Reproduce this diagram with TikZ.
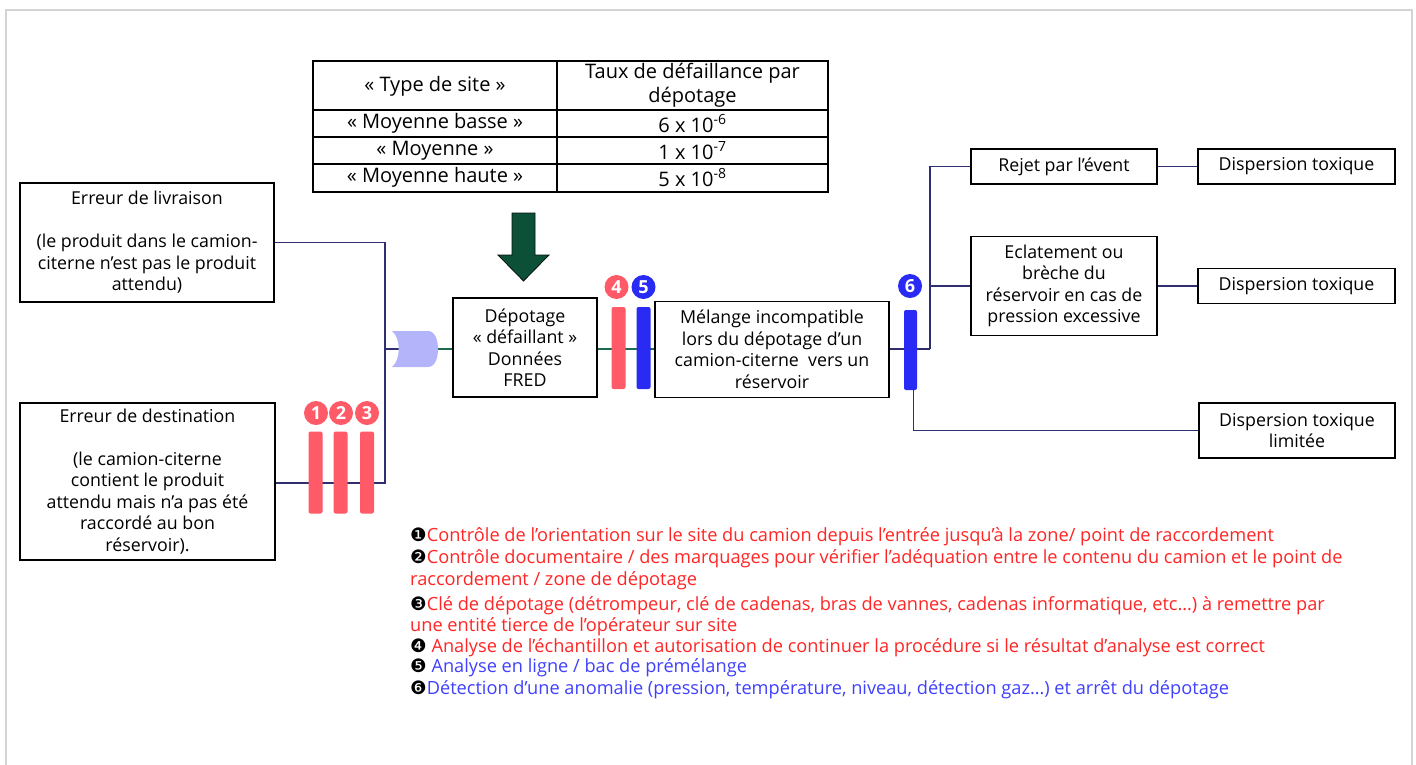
\documentclass[tikz,border=0pt]{standalone}
\usepackage{fontspec}
\setmainfont{Open Sans}
\newfontfamily\symfont{DejaVu Sans}
\usetikzlibrary{backgrounds}
\definecolor{navy}{HTML}{2F2F6F}
\definecolor{lgreen}{HTML}{1E6B4C}
\definecolor{bred}{HTML}{FF5A68}
\definecolor{bblue}{HTML}{2A2AF5}
\definecolor{tred}{HTML}{FF2525}
\definecolor{tblue}{HTML}{4040FF}
\definecolor{gatefill}{HTML}{B4B4FA}
\definecolor{arrowgreen}{HTML}{0D5038}
\definecolor{frame}{HTML}{D4D4D4}
\newcommand{\bul}[1]{{\symfont\fontsize{18.5}{18}\selectfont #1}}
\begin{document}
\begin{tikzpicture}[x=1pt,y=-1pt,
  font=\fontsize{17.8}{21.5}\selectfont,
  bx/.style 2 args={draw=black, line width=1.4pt, align=center, inner sep=0pt, fill=white, minimum width=#1pt, minimum height=#2pt},
  conn/.style={navy, line width=1.3pt},
  gconn/.style={lgreen, line width=1.3pt},
  barrier/.style={fill=#1, rounded corners=2pt, minimum width=14pt, minimum height=82pt, inner sep=0pt},
  num/.style={circle, fill=#1, inner sep=0pt, minimum size=24pt, text=white, font=\bfseries\fontsize{18}{18}\selectfont},
  cell/.style={align=center, inner sep=0pt, font=\fontsize{20}{24}\selectfont},
  leg/.style={anchor=base west, inner sep=0pt, font=\fontsize{18.2}{21}\selectfont}]
\useasboundingbox (0,0) rectangle (1416,764);
% frame
\draw[frame, line width=1.5pt] (6,770) -- (6,10) -- (1412,10) -- (1412,770);

% table
\draw[line width=2pt] (313,61) rectangle (828,192);
\draw[line width=1.5pt] (313,110) -- (828,110) (313,137) -- (828,137) (313,164) -- (828,164) (557,61) -- (557,192);
\node[cell] (t1) at (435,86) {«~Type de site~»};
\node[cell] (t2) at (692.5,85) {Taux de défaillance par\\dépotage};
\node[cell] (t3) at (435,123.5) {«~Moyenne basse~»};
\node[cell] (t4) at (692.5,123.5) {6 x 10\textsuperscript{-6}};
\node[cell] (t5) at (435,150.5) {«~Moyenne~»};
\node[cell] (t6) at (692.5,150.5) {1 x 10\textsuperscript{-7}};
\node[cell] (t7) at (435,177.5) {«~Moyenne haute~»};
\node[cell] (t8) at (692.5,177.5) {5 x 10\textsuperscript{-8}};

% green arrow
\fill[arrowgreen, draw=black!80!arrowgreen, line width=0.8pt] (512,213) -- (535,213) -- (535,255) -- (549,255) -- (523.5,281) -- (498,255) -- (512,255) -- cycle;

% boxes
\node[bx={254}{119}] (liv) at (147,242.5) {Erreur de livraison\\[21.5pt](le produit dans le camion-\\citerne n’est pas le produit\\attendu)};
\node[bx={255}{157}] (dest) at (147.5,481.5) {Erreur de destination\\[21.5pt](le camion-citerne\\contient le produit\\attendu mais n’a pas été\\raccordé au bon\\réservoir).};
\node[bx={144}{99}] (dep) at (525,347.5) {Dépotage\\«~défaillant~»\\Données\\FRED};
\node[bx={234}{96}] (mel) at (772,349.5) {Mélange incompatible\\lors du dépotage d’un\\camion-citerne~ vers un\\réservoir};
\node[bx={186}{35}] (rej) at (1064,166.5) {Rejet par l’évent};
\node[bx={186}{99}] (ecl) at (1064,286) {Eclatement ou\\brèche du\\réservoir en cas de\\pression excessive};
\node[bx={197}{35}] (dis1) at (1296.5,166.5) {Dispersion toxique};
\node[bx={197}{35}] (dis2) at (1296.5,286) {Dispersion toxique};
\node[bx={196}{55}] (dis3) at (1297,430.5) {Dispersion toxique\\limitée};

% gate
\path[fill=gatefill] (392,331) -- (428,331) .. controls (435,331) and (438,340) .. (438,349) .. controls (438,358) and (435,367) .. (428,367) -- (392,367) .. controls (401,360) and (401,338) .. (392,331) -- cycle;
\coordinate (gin) at (399,349);
\coordinate (gout) at (438,349);
\coordinate (j1) at (385,349);
\coordinate (j2) at (930,349);

% barriers
\node[barrier=bred] (b1) at (315.5,472.5) {};
\node[barrier=bred] (b2) at (340.5,472.5) {};
\node[barrier=bred] (b3) at (367,472.5) {};
\node[num=bred] (c1) at (316,413) {1};
\node[num=bred] (c2) at (341,413) {2};
\node[num=bred] (c3) at (367,413) {3};
\node[barrier=bred] (b4) at (618.5,348) {};
\node[barrier=bblue] (b5) at (643.5,348) {};
\node[num=bred] (c4) at (616.5,287) {4};
\node[num=bblue] (c5) at (643.5,287) {5};
\node[barrier=bblue, minimum width=13pt, minimum height=80pt] (b6) at (910.5,350) {};
\node[num=bblue] (c6) at (910,286) {6};

% connectors
\begin{scope}[on background layer]
\draw[conn] (liv.east) -| (j1);
\draw[conn] (dest.east |- 0,483) -| (j1);
\draw[navy, line width=2.5pt] (j1) -- (gin);
\draw[gconn] (gout) -- (dep.west |- gout);
\draw[gconn] (dep.east |- gout) -- (mel.west |- gout);
\draw[conn] (mel.east |- j2) -- (j2);
\draw[conn] (j2) |- (rej.west);
\draw[conn] (j2 |- ecl.west) -- (ecl.west);
\draw[conn] (rej.east) -- (dis1.west);
\draw[conn] (ecl.east) -- (dis2.west);
\draw[conn] ([xshift=3pt]b6.south) |- (dis3.west);
\end{scope}

% legend
\node[leg] (l1) at (410,541) {\bul{❶}\textcolor{tred}{Contrôle de l'orientation sur le site du camion depuis l'entrée jusqu'à la zone/ point de raccordement}};
\node[leg] (l2) at (410,563) {\bul{❷}\textcolor{tred}{Contrôle documentaire / des marquages pour vérifier l’adéquation entre le contenu du camion et le point de}};
\node[leg] (l2b) at (410,585) {\textcolor{tred}{raccordement / zone de dépotage}};
\node[leg] (l3) at (410,610) {\bul{❸}\textcolor{tred}{Clé de dépotage (détrompeur, clé de cadenas, bras de vannes, cadenas informatique, etc…) à remettre par}};
\node[leg] (l3b) at (410,631) {\textcolor{tred}{une entité tierce de l’opérateur sur site}};
\node[leg] (l4) at (410,652) {\bul{❹} \textcolor{tred}{Analyse de l’échantillon et autorisation de continuer la procédure si le résultat d’analyse est correct}};
\node[leg] (l5) at (410,672) {\bul{❺} \textcolor{tblue}{Analyse en ligne / bac de prémélange}};
\node[leg] (l6) at (410,694) {\bul{❻}\textcolor{tblue}{Détection d’une anomalie (pression, température, niveau, détection gaz…) et arrêt du dépotage}};
\end{tikzpicture}
\end{document}
